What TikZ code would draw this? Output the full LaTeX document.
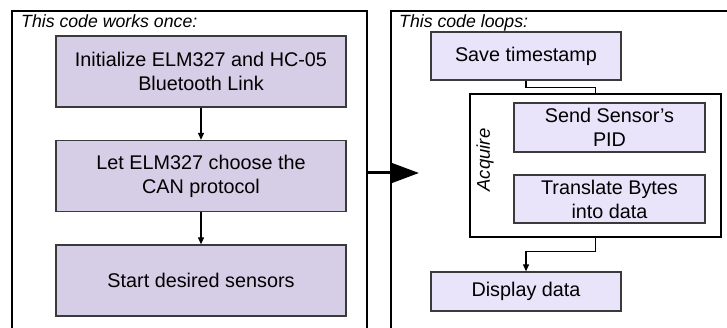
\documentclass[tikz,border=0pt]{standalone}
\usepackage{fontspec}
\setmainfont{Liberation Sans}
\usetikzlibrary{arrows.meta}

\definecolor{onceFill}{HTML}{D5CEE6}
\definecolor{loopFill}{HTML}{EAE4FB}
\definecolor{boxLine}{HTML}{3A3A3A}

\begin{document}
\begin{tikzpicture}[x=1pt, y=-1pt,
  frame/.style={draw=black, line width=1.3pt, inner sep=0pt},
  stepbox/.style={draw=boxLine, line width=1.3pt, align=center, inner sep=0pt,
    font=\fontsize{19.8}{24}\selectfont},
  oncebox/.style={stepbox, fill=onceFill, minimum width=290pt, minimum height=71pt},
  loopbox/.style={stepbox, fill=loopFill},
  title/.style={anchor=base west, inner sep=0pt, font=\fontsize{17.7}{20}\selectfont\itshape},
  link/.style={line width=1.1pt, -{Triangle[length=7pt, width=6pt]}}
]
  \useasboundingbox (0,0) rectangle (727,328);

  % --- 1. frames ---
  \node[frame, minimum width=355pt, minimum height=324pt] (once) at (189.5,173) {};
  \node[frame, minimum width=349pt, minimum height=324pt] (loop) at (565.5,173) {};
  \node[title] (oncetitle) at (21,28) {This code works once:};
  \node[title] (looptitle) at (399,28) {This code loops:};

  % --- 2. setup steps (run once) ---
  \node[oncebox] (init) at (201,71.5) {Initialize ELM327 and HC-05\\Bluetooth Link};
  \node[oncebox] (canprot) at (201,176) {Let ELM327 choose the\\CAN protocol};
  \node[oncebox] (start) at (201,280.5) {Start desired sensors};

  \draw[link] (init) -- (canprot);
  \draw[link] (canprot) -- (start);

  % --- 3. loop steps ---
  \node[loopbox, minimum width=190pt, minimum height=48pt] (save) at (526,56) {Save timestamp};

  % Acquire block
  \node[frame, fill=white, minimum width=251pt, minimum height=143pt] (acq) at (595.5,165.5) {};
  \node[rotate=90, inner sep=0pt, font=\fontsize{18.5}{20}\selectfont\itshape] (acqlabel) at (485,160) {Acquire};
  \node[loopbox, minimum width=191pt, minimum height=49pt] (send) at (609.5,127.5) {Send Sensor’s\\PID};
  \node[loopbox, minimum width=191pt, minimum height=48pt] (transl) at (609.5,199) {Translate Bytes\\into data};

  \node[loopbox, minimum width=190pt, minimum height=39pt] (display) at (526,291.5) {Display data};

  \draw[line width=1.1pt] (save.south) -- ++(0,7) -| (acq.north);
  \draw[link] (acq.south) -- ++(0,14) -| (display.north);

  % --- 4. big arrow between the frames ---
  \coordinate (tip) at (419,173);
  \draw[line width=3pt, -{Triangle[length=28pt, width=20pt]}] (once.east) -- (tip);

\end{tikzpicture}
\end{document}
